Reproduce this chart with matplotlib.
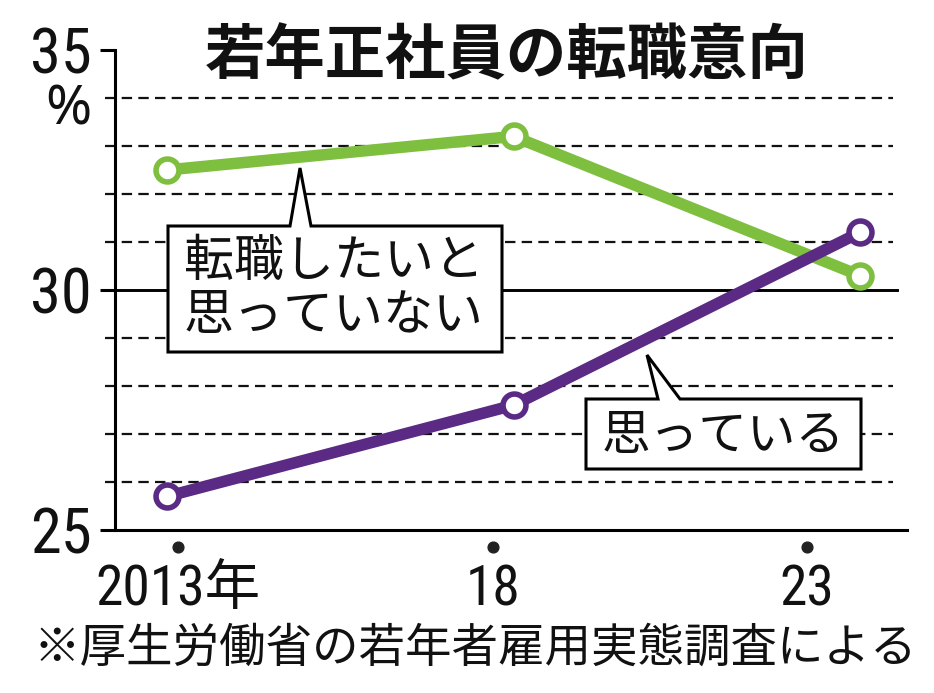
import matplotlib
matplotlib.use("Agg")
import matplotlib.pyplot as plt
from matplotlib import font_manager
from matplotlib.patches import Polygon

# ---- data ----
title = "若年正社員の転職意向"
years_labels = ["2013年", "18", "23"]
not_want = [32.5, 33.2, 30.3]     # 転職したいと思っていない
want = [25.7, 27.6, 31.2]         # 思っている
label_not_want = ["転職したいと", "思っていない"]
label_want = "思っている"
source = "※厚生労働省の若年者雇用実態調査による"
yticks = [25, 30, 35]

names = {f.name for f in font_manager.fontManager.ttflist}
num_font = None
for cand in ["Liberation Sans Narrow", "Roboto Condensed", "Open Sans Condensed"]:
    if cand in names:
        num_font = cand
        break
if num_font is None:
    num_font = "Liberation Sans"
CJK = "Noto Sans CJK JP"
plt.rcParams['font.family'] = [CJK, 'DejaVu Sans']
plt.rcParams['lines.scale_dashes'] = False

W, H = 934, 693
fig = plt.figure(figsize=(W / 100, H / 100), dpi=100)

def px(x, y):
    return (x / W, 1 - y / H)

L, R, T, B = 115, 907, 50, 530
ax = fig.add_axes([L / W, 1 - B / H, (R - L) / W, (B - T) / H])

GREEN = "#7fbf3f"
PURPLE = "#5a2a84"
xpos = list(range(len(not_want)))
scale = 346.5
ax.set_xlim(0 - (167 - L) / scale, 2 + (R - 860) / scale)
ax.set_ylim(25, 35)

# grid
for y in range(26, 35):
    if y == 30:
        ax.axhline(y, xmin=-10 / 792, xmax=782 / 792, color="black", lw=2.1,
                   clip_on=False, zorder=1)
    else:
        ax.axhline(y, xmin=-10 / 792, xmax=778 / 792, color="#111111", lw=1.6,
                   linestyle=(0, (7.5, 4.5)), clip_on=False, zorder=1)

ax.plot(xpos, not_want, color=GREEN, lw=8.3, marker="o", ms=16.5,
        mfc="white", mec=GREEN, mew=4.0, zorder=5, solid_capstyle="round")
ax.plot(xpos, want, color=PURPLE, lw=8.3, marker="o", ms=16.5,
        mfc="white", mec=PURPLE, mew=4.0, zorder=6, solid_capstyle="round")

for s in ["top", "right"]:
    ax.spines[s].set_visible(False)
for s in ["left", "bottom"]:
    ax.spines[s].set_linewidth(2.2)

ax.set_yticks(yticks)
ax.set_yticklabels([str(v) for v in yticks], fontfamily=[num_font, CJK], fontsize=45,
                   color="#111111")
ax.tick_params(axis="y", length=11, width=2.2, pad=6)

tick_x = [(178 - 167) / scale, (493 - 167) / scale, (807 - 167) / scale]
ax.set_xticks(tick_x)
ax.set_xticklabels(years_labels, fontfamily=[num_font, CJK], fontsize=40,
                   color="#111111")
ax.tick_params(axis="x", length=0, pad=24)
ax.scatter(tick_x, [-17 / 480] * 3, s=60, color="#222222",
           transform=ax.get_xaxis_transform(), clip_on=False, zorder=5)

fig.text(*px(91, 110), "%", ha="right", va="center", fontsize=40,
         fontfamily=["Noto Sans", "DejaVu Sans"], color="#111111")

# title
fig.text(*px(507, 57), title, ha="center", va="center", fontsize=43.5,
         fontweight="bold", color="#111111")

# callout 1
poly1 = [px(168, 226), px(290, 226), px(300, 168), px(311, 226), px(502, 226),
         px(502, 352), px(168, 352)]
ax.add_patch(Polygon(poly1, closed=True, facecolor="white", edgecolor="black",
                     lw=2.2, transform=fig.transFigure, clip_on=False, zorder=3,
                     joinstyle="miter"))
fig.text(*px(184, 262), label_not_want[0], ha="left", va="center", fontsize=36,
         color="#111111")
fig.text(*px(184, 316), label_not_want[1], ha="left", va="center", fontsize=36,
         color="#111111")

# callout 2
poly2 = [px(586, 399), px(658, 399), px(647, 355), px(680, 399), px(861, 399),
         px(861, 469), px(586, 469)]
ax.add_patch(Polygon(poly2, closed=True, facecolor="white", edgecolor="black",
                     lw=2.2, transform=fig.transFigure, clip_on=False, zorder=3,
                     joinstyle="miter"))
fig.text(*px(723, 436), label_want, ha="center", va="center", fontsize=35,
         color="#111111")

# source
fig.text(*px(33, 648), source, ha="left", va="center", fontsize=33.5, color="#111111")

fig.savefig("out.png", dpi=100)
